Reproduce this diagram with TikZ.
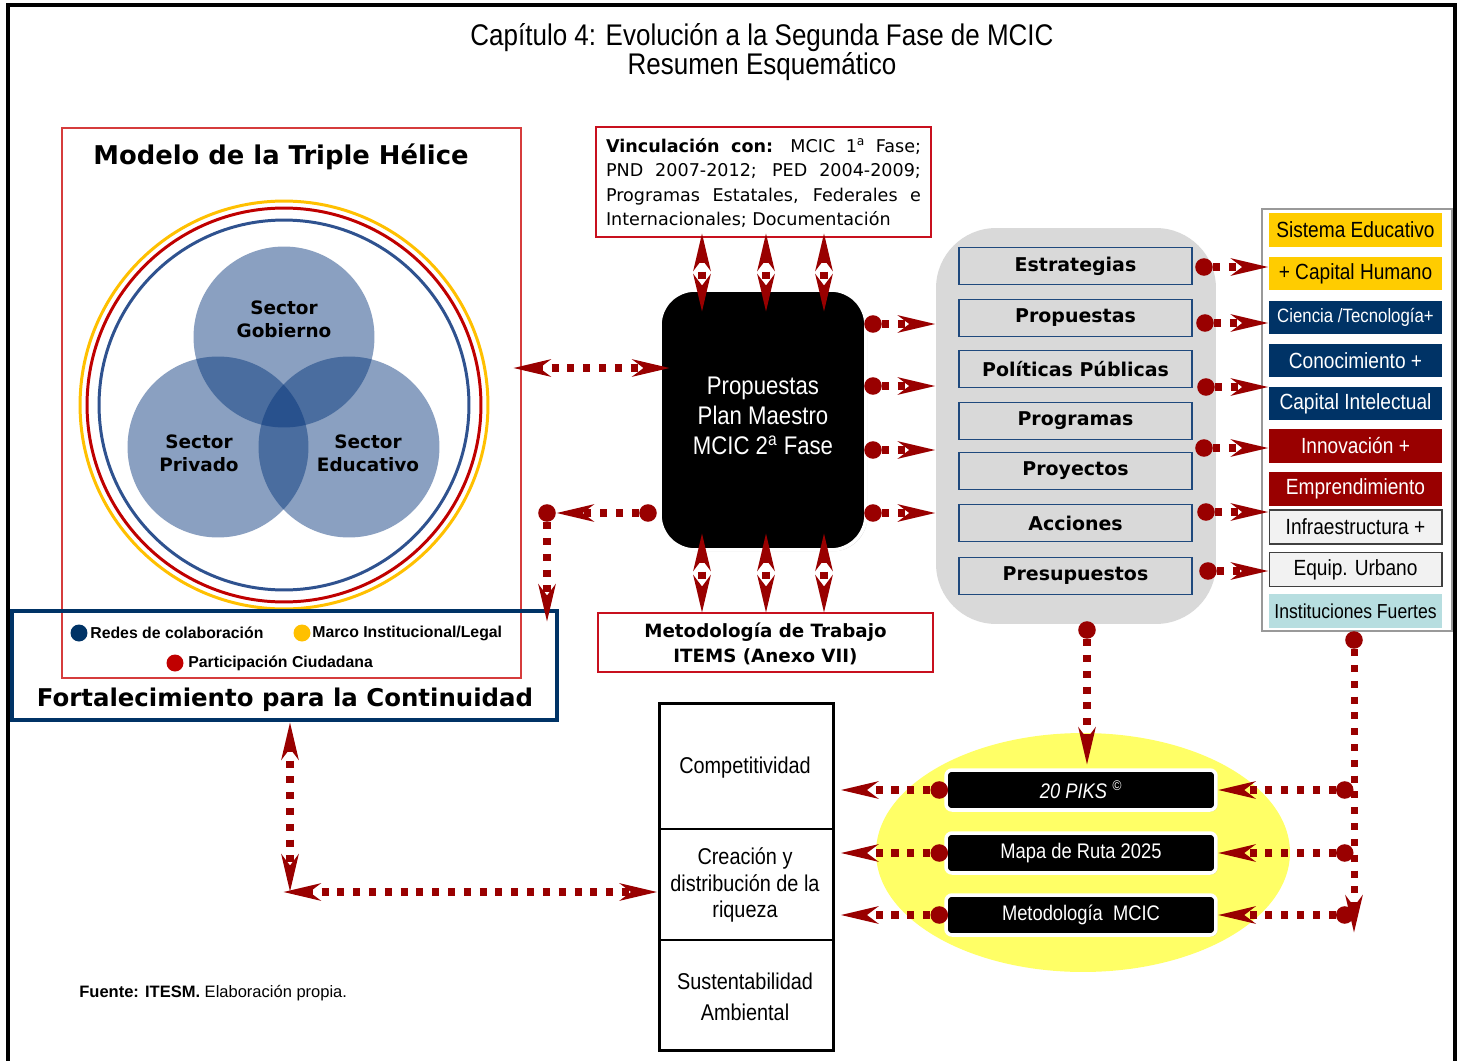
\documentclass[tikz,border=0pt]{standalone}
\usepackage{fontspec}
\setmainfont{Liberation Sans}
\newfontfamily\narrowf[FakeStretch=0.87]{Liberation Sans}
\newfontfamily\dejavu{DejaVu Sans}
\usetikzlibrary{arrows.meta,shadows,calc}
\definecolor{dred}{RGB}{153,0,0}
\definecolor{mred}{RGB}{214,60,60}
\definecolor{bred}{RGB}{200,16,30}
\definecolor{ringy}{RGB}{255,192,0}
\definecolor{ringr}{RGB}{192,0,0}
\definecolor{ringb}{RGB}{47,82,143}
\definecolor{helix}{RGB}{0,49,120}
\definecolor{navy}{RGB}{0,51,102}
\definecolor{itemb}{RGB}{31,73,125}
\definecolor{panelg}{RGB}{217,217,217}
\definecolor{yel}{RGB}{255,204,0}
\definecolor{cyanl}{RGB}{183,222,224}
\definecolor{lgray}{RGB}{242,242,242}
\definecolor{ellip}{RGB}{255,255,102}
\begin{document}
\begin{tikzpicture}[x=0.02cm,y=-0.02cm,
 link/.style={draw=dred, line width=4pt, dash pattern=on 4pt off 5pt},
 hd/.tip={Stealth[length=21pt,width=9.5pt,inset=6pt]},
 dotn/.style={circle, fill=dred, minimum size=10pt, inner sep=0pt},
 txt/.style={inner sep=0pt, align=center},
 pitem/.style={draw=itemb, line width=1.1pt, fill=panelg, minimum width=4.66cm, minimum height=0.74cm, inner sep=0pt, font=\dejavu\bfseries\fontsize{10.8}{12}\selectfont},
 rc/.style={minimum width=3.46cm, minimum height=0.68cm, inner sep=0pt, font=\narrowf\fontsize{12.5}{14}\selectfont},
 bar/.style={fill=black, draw=white, line width=2pt, rounded corners=0.12cm, minimum width=5.4cm, minimum height=0.8cm, inner sep=0pt, text=white, font=\narrowf\fontsize{12}{14}\selectfont, drop shadow={shadow xshift=0.8pt, shadow yshift=-0.8pt, opacity=0.45}},
 redbox/.style={draw=bred, line width=1.2pt, minimum width=6.7cm, inner sep=0pt},
]
\useasboundingbox (0,0) rectangle (1464,1061);
\fill[white] (0,0) rectangle (1464,1061);
\draw[line width=2.3pt] (8,1061) -- (8,5) -- (1455,5) -- (1455,1061);

% title
\node[txt, font=\narrowf\fontsize{17}{16.4}\selectfont] (title) at (762,52) {Capítulo 4: Evolución a la Segunda Fase de MCIC\\Resumen Esquemático};

% triple helix
\draw[mred, line width=0.6pt] (62,128) rectangle (521,678);
\node[txt, font=\dejavu\bfseries\fontsize{14.7}{16}\selectfont] (modelo) at (281,157) {Modelo de la Triple Hélice};
\draw[ringy, line width=1.7pt] (284,405) circle[radius=4.08cm];
\draw[ringr, line width=1.7pt] (284,405) circle[radius=3.94cm];
\draw[ringb, line width=1.7pt] (284,405) circle[radius=3.70cm];
\fill[helix, fill opacity=0.46] (284,337) circle[radius=1.81cm];
\fill[helix, fill opacity=0.46] (218,447) circle[radius=1.81cm];
\fill[helix, fill opacity=0.46] (349,447) circle[radius=1.81cm];
\node[txt, font=\dejavu\bfseries\fontsize{10.5}{13}\selectfont] (sg) at (284,319) {Sector\\Gobierno};
\node[txt, font=\dejavu\bfseries\fontsize{10.5}{13}\selectfont] (sp) at (199,453) {Sector\\Privado};
\node[txt, font=\dejavu\bfseries\fontsize{10.5}{13}\selectfont] (se) at (368,453) {Sector\\Educativo};

% fortalecimiento box
\node[draw=navy, line width=2.3pt, minimum width=10.9cm, minimum height=2.18cm, inner sep=0pt] (fort) at (284.5,665.5) {};
\fill[navy] (79,633) circle[radius=0.17cm];
\node[txt, anchor=west, font=\bfseries\fontsize{9}{10}\selectfont] (l1) at (90,633) {Redes de colaboración};
\fill[ringy] (302,633) circle[radius=0.17cm];
\node[txt, anchor=west, font=\bfseries\fontsize{9}{10}\selectfont] (l2) at (312,633) {Marco Institucional/Legal};
\fill[ringr] (175,663) circle[radius=0.17cm];
\node[txt, anchor=west, font=\bfseries\fontsize{9}{10}\selectfont] (l3) at (188,663) {Participación Ciudadana};
\node[txt, font=\dejavu\bfseries\fontsize{13.9}{15}\selectfont] (fortt) at (285,700) {Fortalecimiento para la Continuidad};

% vinculacion
\node[redbox, minimum height=2.2cm] (vinc) at (763.5,182) {};
\node[txt, align=left, font=\dejavu\fontsize{10}{14}\selectfont] (vinct) at (763.5,183) {%
\makebox[6.3cm][s]{\textbf{Vinculación con:} MCIC 1\textsuperscript{a} Fase;}\\
\makebox[6.3cm][s]{PND 2007-2012; PED 2004-2009;}\\
\makebox[6.3cm][s]{Programas Estatales, Federales e}\\
Internacionales; Documentación};

% metodologia
\node[redbox, minimum height=1.18cm] (metod) at (765.5,642.5) {};
\node[txt, font=\dejavu\bfseries\fontsize{10.4}{14.2}\selectfont] (metodt) at (765.5,643.5) {Metodología de Trabajo\\ITEMS (Anexo VII)};

% black box
\node[fill=black, draw=white, line width=2pt, rounded corners=0.7cm, minimum width=4.12cm, minimum height=5.2cm, drop shadow={shadow xshift=0.8pt, shadow yshift=-0.8pt, opacity=0.4}] (blk) at (763,420) {};
\node[txt, text=white, font=\narrowf\fontsize{14.5}{17}\selectfont] (blkt) at (763,416) {Propuestas\\Plan Maestro\\MCIC 2\textsuperscript{a} Fase};

% grey panel
\node[fill=panelg, rounded corners=1.2cm, minimum width=5.6cm, minimum height=7.92cm] (panel) at (1076,426) {};
\node[pitem] (p1) at (1075.5,266) {Estrategias};
\node[pitem] (p2) at (1075.5,318) {Propuestas};
\node[pitem] (p3) at (1075.5,369) {Políticas Públicas};
\node[pitem] (p4) at (1075.5,421) {Programas};
\node[pitem] (p5) at (1075.5,471) {Proyectos};
\node[pitem] (p6) at (1075.5,523) {Acciones};
\node[pitem] (p7) at (1075.5,576) {Presupuestos};

% right column
\draw[gray!80, line width=0.6pt] (1262,209) rectangle (1452,631);
\node[rc, fill=yel] (r1) at (1355.5,230) {Sistema Educativo};
\node[rc, fill=yel] (r2) at (1355.5,273.5) {+ Capital Humano};
\node[rc, fill=navy, text=white, font=\narrowf\fontsize{11}{12}\selectfont] (r3) at (1355.5,317.5) {Ciencia /Tecnología+};
\node[rc, fill=navy, text=white] (r4) at (1355.5,360.5) {Conocimiento +};
\node[rc, fill=navy, text=white] (r5) at (1355.5,403.5) {Capital Intelectual};
\node[rc, fill=dred, text=white] (r6) at (1355.5,445.5) {Innovación +};
\node[rc, fill=dred, text=white] (r7) at (1355.5,488.5) {Emprendimiento};
\node[rc, fill=lgray, draw=black!75, line width=0.6pt] (r8) at (1355.5,527) {Infraestructura +};
\node[rc, fill=lgray, draw=black!75, line width=0.6pt] (r9) at (1355.5,569.5) {Equip. Urbano};
\node[rc, fill=cyanl, font=\narrowf\fontsize{11.5}{12}\selectfont] (r10) at (1355.5,611) {Instituciones Fuertes};

% bottom: column box
\node[draw=black, line width=1.7pt, minimum width=3.5cm, minimum height=6.96cm, inner sep=0pt] (colbox) at (746.5,877) {};
\draw[line width=0.6pt] (659,829) -- (834,829);
\draw[line width=0.6pt] (659,940) -- (834,940);
\node[txt, font=\narrowf\fontsize{13}{15}\selectfont] (c1) at (745,768) {Competitividad};
\node[txt, font=\narrowf\fontsize{13}{15}\selectfont] (c2) at (745,885) {Creación y\\distribución de la\\riqueza};
\node[txt, font=\narrowf\fontsize{13}{18}\selectfont] (c3) at (745,997) {Sustentabilidad\\Ambiental};

% ellipse and bars
\fill[ellip] (1083,852.5) ellipse[x radius=4.14cm, y radius=2.39cm];
\node[bar, font=\narrowf\itshape\fontsize{12}{14}\selectfont] (b1) at (1081,790) {20 PIKS \textsuperscript{\textcopyright}};
\node[bar] (b2) at (1081,853) {Mapa de Ruta 2025};
\node[bar] (b3) at (1081,915) {Metodología~ MCIC};

% fuente
\node[txt, anchor=west, font=\fontsize{9.4}{11}\selectfont] (fuente) at (79,993) {\textbf{Fuente: ITESM.} Elaboración propia.};

% ---------- connectors ----------
\coordinate (h1) at (513,368);
\coordinate (h2) at (670,368);
\draw[link, hd-hd] (h1) -- (h2);

\foreach \xx/\nm in {702/a,766/b,824/c}{
  \coordinate (vt\nm) at (\xx,233);
  \coordinate (vb\nm) at (\xx,312);
  \draw[link, hd-hd] (vt\nm) -- (vb\nm);
  \coordinate (mt\nm) at (\xx,533);
  \coordinate (mb\nm) at (\xx,613);
  \draw[link, hd-hd] (mt\nm) -- (mb\nm);
}

% left of black box
\node[dotn] (dl) at (648,513) {};
\node[dotn] (dc) at (547,513) {};
\coordinate (dd) at (547,622);
\draw[link, -hd] (dl) -- (dc);
\draw[link, -hd] (dc) -- (dd);

% black box to panel
\foreach \yy/\nm in {324/a,386/b,450/c,513/d}{
  \node[dotn] (bd\nm) at (873,\yy) {};
  \draw[link, -hd] (bd\nm) -- (bd\nm -| panel.west);
}

% panel to right column
\foreach \xx/\yy/\nm in {1204/267/a,1205/323/b,1206/387/c,1204/448/d,1206/512/e,1208/571/f}{
  \node[dotn] (pd\nm) at (\xx,\yy) {};
  \draw[link, -hd] (pd\nm) -- (pd\nm -| r1.west);
}

% panel down to ellipse
\node[dotn] (pdown) at (1087,630) {};
\coordinate (pdt) at (1087,765);
\draw[link, -hd] (pdown) -- (pdt);

% right vertical
\node[dotn] (rv) at (1354,640) {};
\coordinate (rvt) at (1354,933);
\draw[link, -hd] (rv) -- (rvt);

% bars
\foreach \bb in {1,2,3}{
  \node[dotn] (bl\bb) at ($(b\bb.west)+(-5,0)$) {};
  \draw[link, -hd] (bl\bb) -- ($(bl\bb -| colbox.east)+(5,0)$);
  \node[dotn] (br\bb) at ($(b\bb.east)+(127,0)$) {};
  \draw[link, -hd] (br\bb) -- (br\bb -| b\bb.east);
}

% bottom left
\coordinate (crn) at (290,892);
\coordinate (crn2) at (283,892);
\draw[link, hd-hd] (crn |- fort.south) -- (crn);
\draw[link, hd-hd] (crn2) -- (crn2 -| colbox.west);
\end{tikzpicture}
\end{document}
